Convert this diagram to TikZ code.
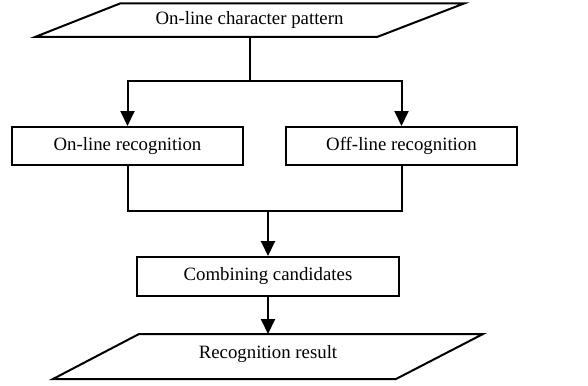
\documentclass[tikz,border=0pt]{standalone}
\usepackage{fontspec}
\setmainfont{Liberation Serif}
\usetikzlibrary{arrows.meta}
\begin{document}
\begin{tikzpicture}[x=1pt,y=-1pt,
  every node/.style={font=\fontsize{18.8}{22}\selectfont},
  box/.style={draw,line width=2pt,rectangle,inner sep=0pt},
  conn/.style={line width=2pt},
  arr/.style={conn,-{Triangle[length=15pt,width=14pt]}}]
\useasboundingbox (0,0) rectangle (588,385);
% input parallelogram
\draw[conn,line join=miter] (120,3.5) -- (464,3.5) -- (377,37) -- (35,37) -- cycle;
\node (inp) at (249.5,20) {On-line character pattern};
\coordinate (inpb) at (249.5,37);
\node[box,minimum width=231pt,minimum height=38pt] (onl) at (127.5,146) {On-line recognition};
\node[box,minimum width=231pt,minimum height=38pt] (offl) at (401.5,146) {Off-line recognition};
\node[box,minimum width=262pt,minimum height=39pt] (comb) at (268,276.5) {Combining candidates};
% result parallelogram
\draw[conn,line join=miter] (139,334) -- (483,334) -- (396,379) -- (53,379) -- cycle;
\node (res) at (268,354.5) {Recognition result};
\coordinate (rest) at (268,334);
\coordinate (s) at (249.5,81);
\coordinate (j) at (268,211);
\draw[conn] (inpb) -- (s);
\draw[arr] (s) -| (onl.north);
\draw[arr] (s) -| (offl.north);
\draw[conn] (onl.south) |- (j) -| (offl.south);
\draw[arr] (j) -- (comb.north);
\draw[arr] (comb.south) -- (rest);
\end{tikzpicture}
\end{document}
